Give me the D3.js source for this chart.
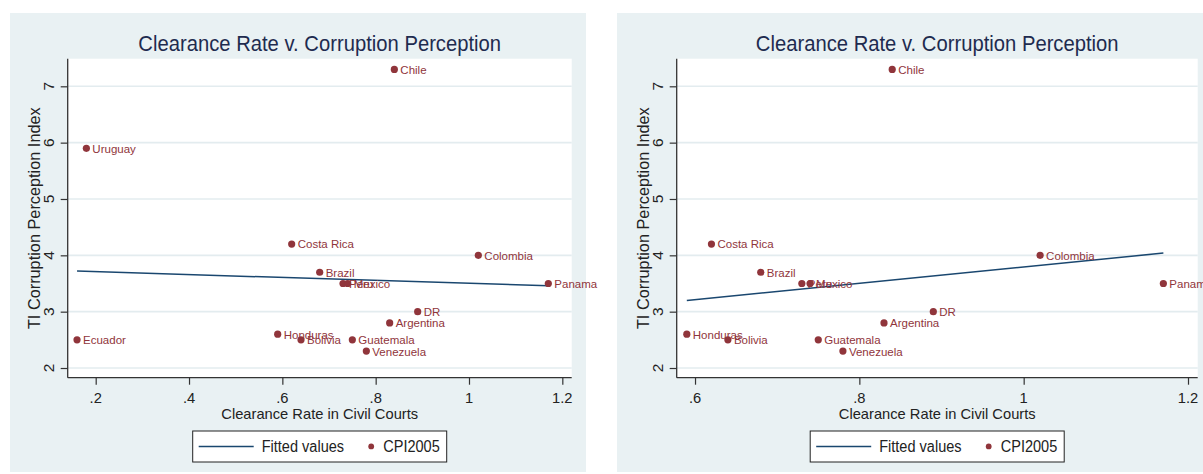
<!DOCTYPE html>
<html>
<head>
<meta charset="utf-8">
<script src="https://cdn.jsdelivr.net/npm/d3@7"></script>
<style>
  html, body { margin: 0; padding: 0; background: #ffffff; }
  svg { display: block; }
  text { font-family: "Liberation Sans", Arial, Helvetica, sans-serif; }
</style>
</head>
<body>
<svg id="chart" width="1203" height="474"></svg>
<script>
// ---------------- data ----------------
const countries = ["Chile", "Uruguay", "Costa Rica", "Colombia", "Brazil", "Peru", "Mexico", "Panama",
                   "DR", "Argentina", "Honduras", "Bolivia", "Guatemala", "Ecuador", "Venezuela"];
const clearanceRate = [0.84, 0.18, 0.62, 1.02, 0.68, 0.73, 0.74, 1.17, 0.89, 0.83, 0.59, 0.64, 0.75, 0.16, 0.78];
const cpi2005 = [7.3, 5.9, 4.2, 4.0, 3.7, 3.5, 3.5, 3.5, 3.0, 2.8, 2.6, 2.5, 2.5, 2.5, 2.3];
// countries excluded from the second panel
const excludedRight = ["Uruguay", "Ecuador"];

// fitted values (line end points)
const fitLeftX = [0.16, 1.17];
const fitLeftY = [3.72, 3.46];
const fitRightX = [0.59, 1.17];
const fitRightY = [3.20, 4.04];

const yTicks = [2, 3, 4, 5, 6, 7];
const xTicksLeft = [0.2, 0.4, 0.6, 0.8, 1, 1.2];
const xTicksRight = [0.6, 0.8, 1, 1.2];

const titleText = "Clearance Rate v. Corruption Perception";
const xTitle = "Clearance Rate in Civil Courts";
const yTitle = "TI Corruption Perception Index";
const legendLabels = ["Fitted values", "CPI2005"];

// ---------------- style ----------------
const BG = "#e9f1f3";
const GRID = "#e3ecef";
const MAROON = "#90353b";
const NAVY = "#1a476f";
const TITLE_COL = "#1e2b4f";
const TEXT_COL = "#222222";
const AXIS_COL = "#333333";

const svg = d3.select("#chart");

function txt(g, x, y, str, o) {
  o = o || {};
  const sx = o.sx || 1;
  let tr = `translate(${x},${y}) scale(${sx},1)`;
  if (o.rotate) tr += ` rotate(${o.rotate})`;
  const t = g.append("g").attr("transform", tr).append("text")
    .attr("x", 0).attr("y", 0)
    .attr("font-size", o.size || 12)
    .attr("fill", o.fill || TEXT_COL)
    .attr("text-anchor", o.anchor || "start")
    .text(str);
  return t;
}

const fmt = d => {
  const s = d3.format("~g")(d);
  return s.replace(/^0\./, ".");
};

const yTop = 58.7, yBot = 377.7;
const yDomain = [1.828, 7.49];

const panels = [
  { bg: [10, 586], plot: [67.7, 571.7], xDomain: [0.14, 1.2201], xTicks: xTicksLeft,
    idx: countries.map((c, i) => i),
    fitX: fitLeftX, fitY: fitLeftY },
  { bg: [617, 1210], plot: [676.7, 1197.7], xDomain: [0.5777, 1.2118], xTicks: xTicksRight,
    idx: countries.map((c, i) => i).filter(i => !excludedRight.includes(countries[i])),
    fitX: fitRightX, fitY: fitRightY }
];

panels.forEach(p => {
  const g = svg.append("g");
  // graph region background
  g.append("rect").attr("x", p.bg[0]).attr("y", 13)
    .attr("width", p.bg[1] - p.bg[0]).attr("height", 459).attr("fill", BG);
  // plot region
  g.append("rect").attr("x", p.plot[0]).attr("y", yTop)
    .attr("width", p.plot[1] - p.plot[0]).attr("height", yBot - yTop).attr("fill", "#ffffff");

  const x = d3.scaleLinear().domain(p.xDomain).range(p.plot);
  const y = d3.scaleLinear().domain(yDomain).range([yBot, yTop]);
  const cx = (p.plot[0] + p.plot[1]) / 2;
  const cy = (yTop + yBot) / 2;

  // gridlines
  g.append("g").selectAll("line").data(yTicks).join("line")
    .attr("x1", p.plot[0]).attr("x2", p.plot[1])
    .attr("y1", d => y(d)).attr("y2", d => y(d))
    .attr("stroke", GRID).attr("stroke-width", 1.6);

  // axes
  const xAxis = d3.axisBottom(x).tickValues(p.xTicks).tickSize(7).tickFormat("");
  const xa = g.append("g").attr("transform", `translate(0,${yBot})`).call(xAxis);
  const yAxis = d3.axisLeft(y).tickValues(yTicks).tickSize(7).tickFormat("");
  const ya = g.append("g").attr("transform", `translate(${p.plot[0]},0)`).call(yAxis);
  [xa, ya].forEach(a => {
    a.select(".domain").attr("stroke", AXIS_COL).attr("stroke-width", 1.3);
    a.selectAll(".tick line").attr("stroke", AXIS_COL).attr("stroke-width", 1.2);
  });
  xa.select(".domain").attr("d", `M${p.plot[0]},0H${p.plot[1]}`);
  ya.select(".domain").attr("d", `M0,${yTop}V${yBot}`);

  // tick labels
  p.xTicks.forEach(t => txt(g, x(t), yBot + 25.6, fmt(t), { size: 15.5, anchor: "middle", sx: 0.95 }));
  yTicks.forEach(t => txt(g, p.plot[0] - 13.4, y(t), fmt(t), { size: 15.5, anchor: "middle", rotate: -90, sx: 0.95 }));

  // axis titles
  txt(g, cx, yBot + 41.3, xTitle, { size: 15.4, anchor: "middle", sx: 0.955 });
  txt(g, p.plot[0] - 28.2, cy, yTitle, { size: 16.3, anchor: "middle", rotate: -90, sx: 0.98 });

  // title
  txt(g, cx, 51.3, titleText, { size: 22, anchor: "middle", sx: 0.92, fill: TITLE_COL });

  // fitted line
  const line = d3.line().x(d => x(d[0])).y(d => y(d[1]));
  g.append("path").datum(p.fitX.map((v, i) => [v, p.fitY[i]]))
    .attr("d", line).attr("fill", "none").attr("stroke", NAVY).attr("stroke-width", 1.5);

  // points
  g.append("g").selectAll("circle").data(p.idx).join("circle")
    .attr("cx", i => x(clearanceRate[i])).attr("cy", i => y(cpi2005[i]))
    .attr("r", 3.6).attr("fill", MAROON);
  // labels
  p.idx.forEach(i => {
    txt(g, x(clearanceRate[i]) + 6, y(cpi2005[i]) + 4.4, countries[i], { size: 11.5, fill: MAROON });
  });

  // legend
  const lg = g.append("g");
  lg.append("rect").attr("x", cx - 127).attr("y", 431).attr("width", 254).attr("height", 31)
    .attr("fill", "#ffffff").attr("stroke", "#222222").attr("stroke-width", 1);
  lg.append("line").attr("x1", cx - 121).attr("x2", cx - 66).attr("y1", 446.6).attr("y2", 446.6)
    .attr("stroke", NAVY).attr("stroke-width", 1.5);
  txt(lg, cx - 58, 452.3, legendLabels[0], { size: 15.8, sx: 0.92 });
  lg.append("circle").attr("cx", cx + 51.5).attr("cy", 446.4).attr("r", 2.9).attr("fill", MAROON);
  txt(lg, cx + 63.5, 452.3, legendLabels[1], { size: 15.8, sx: 0.92 });
});
</script>
</body>
</html>
